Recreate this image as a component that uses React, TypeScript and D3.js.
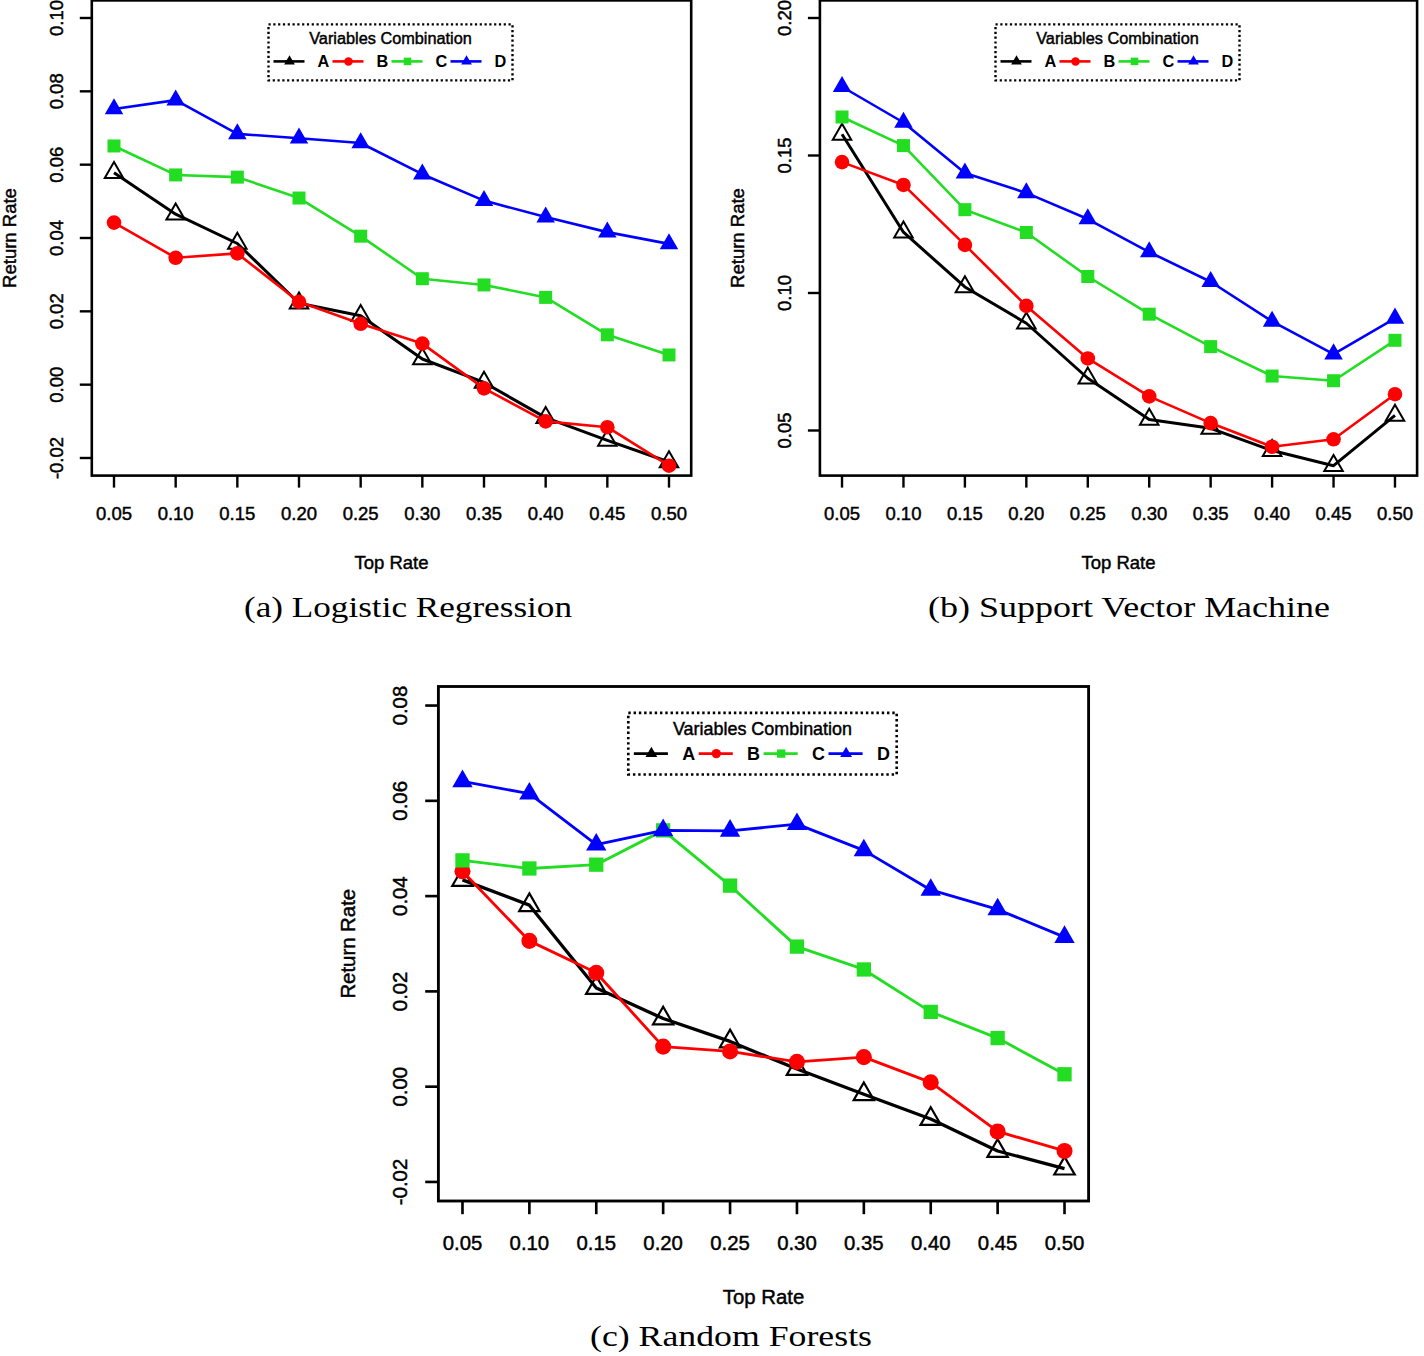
import React from "react";
import * as d3 from "d3";

const topRates = [0.05, 0.1, 0.15, 0.2, 0.25, 0.3, 0.35, 0.4, 0.45, 0.5];
const xTickLabels = ["0.05", "0.10", "0.15", "0.20", "0.25", "0.30", "0.35", "0.40", "0.45", "0.50"];
const seriesNames = ["A", "B", "C", "D"];
const seriesColors = ["#000000", "#FF0000", "#22DD22", "#0000FF"];

// (a) Logistic Regression
const lrA = [0.0578, 0.0465, 0.0385, 0.0222, 0.0188, 0.0070, 0.0006, -0.0090, -0.0152, -0.0211];
const lrB = [0.0442, 0.0346, 0.0358, 0.0226, 0.0166, 0.0112, -0.0010, -0.0100, -0.0116, -0.0221];
const lrC = [0.0651, 0.0572, 0.0566, 0.0509, 0.0405, 0.0289, 0.0272, 0.0238, 0.0136, 0.0081];
const lrD = [0.0752, 0.0776, 0.0684, 0.0672, 0.0659, 0.0574, 0.0502, 0.0457, 0.0416, 0.0384];
const lrYTicks = [-0.02, 0.0, 0.02, 0.04, 0.06, 0.08, 0.1];
const lrYLabels = ["-0.02", "0.00", "0.02", "0.04", "0.06", "0.08", "0.10"];

// (b) Support Vector Machine
const svmA = [0.1577, 0.1221, 0.1022, 0.0890, 0.0690, 0.0540, 0.0508, 0.0427, 0.0372, 0.0555];
const svmB = [0.1476, 0.1393, 0.1175, 0.0953, 0.0762, 0.0624, 0.0527, 0.0441, 0.0468, 0.0632];
const svmC = [0.1640, 0.1536, 0.1303, 0.1220, 0.1060, 0.0923, 0.0805, 0.0698, 0.0681, 0.0828];
const svmD = [0.1750, 0.1620, 0.1436, 0.1364, 0.1269, 0.1149, 0.1041, 0.0897, 0.0778, 0.0908];
const svmYTicks = [0.05, 0.1, 0.15, 0.2];
const svmYLabels = ["0.05", "0.10", "0.15", "0.20"];

// (c) Random Forests
const rfA = [0.0434, 0.0381, 0.0207, 0.0143, 0.0095, 0.0037, -0.0016, -0.0068, -0.0135, -0.0172];
const rfB = [0.0452, 0.0306, 0.0239, 0.0084, 0.0074, 0.0052, 0.0062, 0.0009, -0.0094, -0.0135];
const rfC = [0.0475, 0.0458, 0.0466, 0.0538, 0.0422, 0.0294, 0.0246, 0.0157, 0.0102, 0.0026];
const rfD = [0.0641, 0.0615, 0.0508, 0.0538, 0.0537, 0.0551, 0.0496, 0.0413, 0.0372, 0.0314];
const rfYTicks = [-0.02, 0.0, 0.02, 0.04, 0.06, 0.08];
const rfYLabels = ["-0.02", "0.00", "0.02", "0.04", "0.06", "0.08"];

const SANS = "'Liberation Sans', Arial, Helvetica, sans-serif";
const SERIF = "'Liberation Serif', 'Times New Roman', serif";
const heavy = { stroke: "#000", strokeWidth: 0.45 };

function extend(lo: number, hi: number): [number, number] {
  const d = (hi - lo) * 0.04;
  return [lo - d, hi + d];
}

function markerPath(i: number, s: number, legend: boolean) {
  const k = legend ? 0.58 : 1;
  if (i === 1) return d3.symbol(d3.symbolCircle, Math.PI * Math.pow(7.3 * s * k, 2))()!;
  if (i === 2) return d3.symbol(d3.symbolSquare, Math.pow(13 * s * k, 2))()!;
  const side = 18.5 * s * k;
  return d3.symbol(d3.symbolTriangle, (Math.sqrt(3) / 4) * side * side)()!;
}

type PanelProps = {
  left: number; right: number; top: number; bottom: number; s: number;
  yLim: [number, number]; yTicks: number[]; yLabels: string[];
  series: number[][];
  caption: string; capX: number; capY: number; capLen: number;
};

function Panel(p: PanelProps) {
  const { left, right, top, bottom, s } = p;
  const x = d3.scaleLinear().domain(extend(topRates[0], topRates[topRates.length - 1])).range([left, right]);
  const y = d3.scaleLinear().domain(extend(p.yLim[0], p.yLim[1])).range([bottom, top]);
  const line = d3.line<number>().x((_, i) => x(topRates[i])).y((v) => y(v));
  const tick = 12 * s;
  const fs = 18.5 * s;
  const cx = (left + right) / 2 - 1;
  const lw = 244 * s;
  const lh = 56 * s;
  const lx = cx - lw / 2;
  const ly = top + 24 * s;
  return (
    <g>
      {p.series.map((vals, i) => (
        <g key={i}>
          <path d={line(vals)!} fill="none" stroke={seriesColors[i]} strokeWidth={(i === 0 ? 3 : 2.6) * s} strokeLinejoin="round" />
          {vals.map((v, j) => (
            <path
              key={j}
              d={markerPath(i, s, false)}
              transform={`translate(${x(topRates[j])},${y(v)})`}
              fill={i === 0 ? "none" : seriesColors[i]}
              stroke={seriesColors[i]}
              strokeWidth={i === 0 ? 2 * s : 0}
            />
          ))}
        </g>
      ))}
      <rect x={left} y={top} width={right - left} height={bottom - top} fill="none" stroke="#000" strokeWidth={2.6 * s} />
      {topRates.map((t, i) => (
        <g key={i}>
          <line x1={x(t)} x2={x(t)} y1={bottom} y2={bottom + tick} stroke="#000" strokeWidth={2.4 * s} />
          <text x={x(t)} y={bottom + 38 * s} dy="0.35em" textAnchor="middle" fontFamily={SANS} fontSize={fs} {...heavy}>
            {xTickLabels[i]}
          </text>
        </g>
      ))}
      <text x={(left + right) / 2} y={bottom + 87 * s} dy="0.35em" textAnchor="middle" fontFamily={SANS} fontSize={fs} {...heavy}>
        Top Rate
      </text>
      {p.yTicks.map((t, i) => (
        <g key={i}>
          <line x1={left - tick} x2={left} y1={y(t)} y2={y(t)} stroke="#000" strokeWidth={2.4 * s} />
          <text
            transform={`translate(${left - 35 * s},${y(t)}) rotate(-90)`}
            dy="0.35em"
            textAnchor="middle"
            fontFamily={SANS}
            fontSize={fs}
            {...heavy}
          >
            {p.yLabels[i]}
          </text>
        </g>
      ))}
      <text
        transform={`translate(${left - 82 * s},${(top + bottom) / 2}) rotate(-90)`}
        dy="0.35em"
        textAnchor="middle"
        fontFamily={SANS}
        fontSize={fs}
        {...heavy}
      >
        Return Rate
      </text>
      <rect x={lx} y={ly} width={lw} height={lh} fill="#fff" stroke="#000" strokeWidth={2.4 * s} strokeDasharray={`${2.2 * s} ${2.6 * s}`} />
      <text x={lx + lw / 2} y={ly + 14 * s} dy="0.35em" textAnchor="middle" fontFamily={SANS} fontSize={16.3 * s} {...heavy}>
        Variables Combination
      </text>
      {seriesNames.map((nm, i) => {
        const sx = lx + (5 + 59 * i) * s;
        const ry = ly + 37 * s;
        return (
          <g key={nm}>
            <line x1={sx} x2={sx + 31 * s} y1={ry} y2={ry} stroke={seriesColors[i]} strokeWidth={2.6 * s} />
            <path d={markerPath(i, s, true)} transform={`translate(${sx + 16 * s},${ry})`} fill={seriesColors[i]} />
            <text x={sx + 44 * s} y={ry} dy="0.35em" fontFamily={SANS} fontWeight="bold" fontSize={16.3 * s}>
              {nm}
            </text>
          </g>
        );
      })}
      <text
        x={p.capX}
        y={p.capY}
        textAnchor="middle"
        fontFamily={SERIF}
        fontSize={30}
        textLength={p.capLen}
        lengthAdjust="spacingAndGlyphs"
      >
        {p.caption}
      </text>
    </g>
  );
}

export default function App() {
  return (
    <svg width={1424} height={1356} style={{ position: "absolute", left: 0, top: 0, background: "#fff" }}>
      <rect width={1424} height={1356} fill="#fff" />
      <Panel
        left={91.8} right={691.2} top={0.4} bottom={475.6} s={1}
        yLim={[-0.02, 0.1]} yTicks={lrYTicks} yLabels={lrYLabels}
        series={[lrA, lrB, lrC, lrD]}
        caption="(a) Logistic Regression" capX={408} capY={617} capLen={328}
      />
      <Panel
        left={819.9} right={1417.1} top={0.4} bottom={475.6} s={1}
        yLim={[0.04, 0.2]} yTicks={svmYTicks} yLabels={svmYLabels}
        series={[svmA, svmB, svmC, svmD]}
        caption="(b) Support Vector Machine" capX={1129} capY={617} capLen={402}
      />
      <Panel
        left={438.4} right={1088.6} top={686.5} bottom={1201} s={1.1}
        yLim={[-0.02, 0.08]} yTicks={rfYTicks} yLabels={rfYLabels}
        series={[rfA, rfB, rfC, rfD]}
        caption="(c) Random Forests" capX={731} capY={1346} capLen={282}
      />
    </svg>
  );
}
